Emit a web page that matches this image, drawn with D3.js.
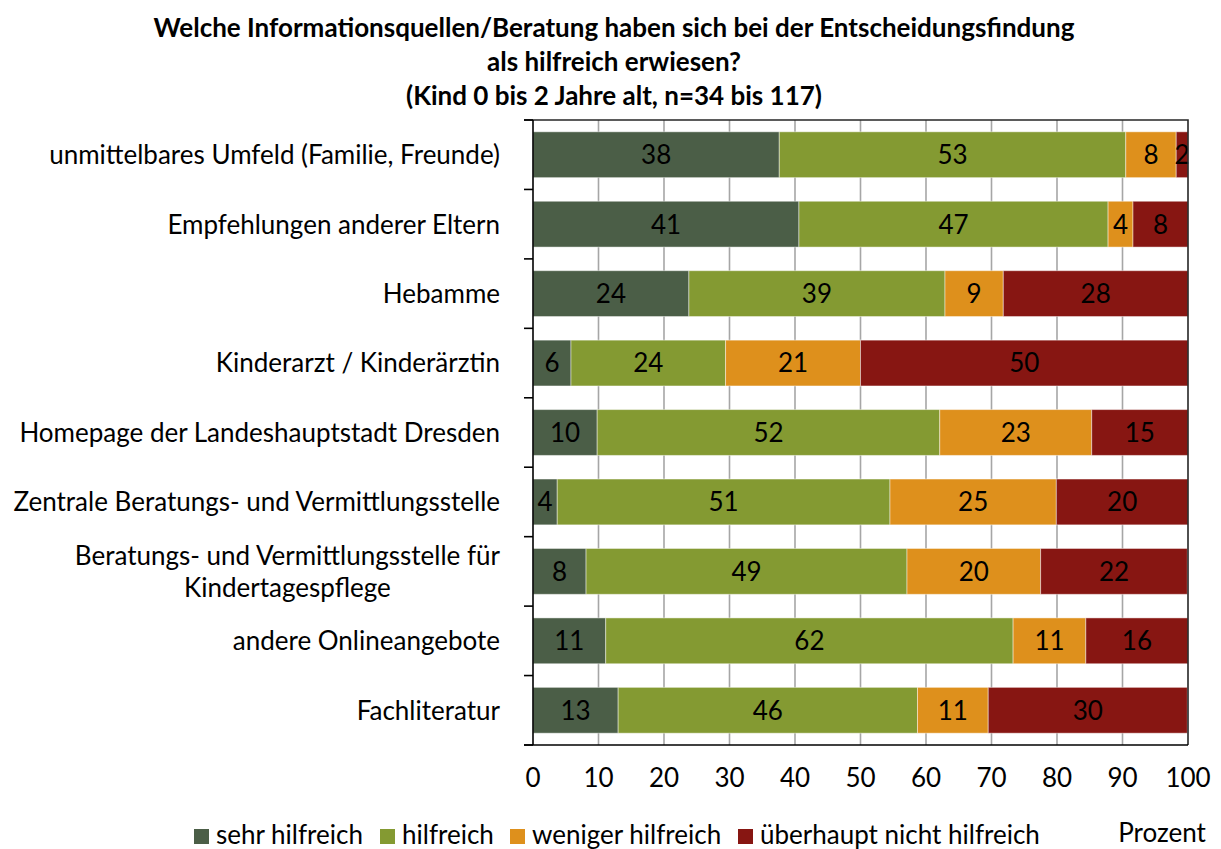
<!DOCTYPE html>
<html>
<head>
<meta charset="utf-8">
<script src="https://cdn.jsdelivr.net/npm/d3@7"></script>
<style>
  body { margin: 0; background: #fff; }
  svg text { font-family: Lato, "Open Sans", sans-serif; fill: #000; }
</style>
</head>
<body>
<svg id="chart"></svg>
<script>

// chart data
const titleLines = [
    "Welche Informationsquellen/Beratung haben sich bei der Entscheidungsfindung",
    "als hilfreich erwiesen?",
    "(Kind 0 bis 2 Jahre alt, n=34 bis 117)"
];

const categories = [
    ["unmittelbares Umfeld (Familie, Freunde)"],
    ["Empfehlungen anderer Eltern"],
    ["Hebamme"],
    ["Kinderarzt / Kinderärztin"],
    ["Homepage der Landeshauptstadt Dresden"],
    ["Zentrale Beratungs- und Vermittlungsstelle"],
    ["Beratungs- und Vermittlungsstelle für", "Kindertagespflege"],
    ["andere Onlineangebote"],
    ["Fachliteratur"]
];

const seriesNames = ["sehr hilfreich", "hilfreich", "weniger hilfreich", "überhaupt nicht hilfreich"];

const sehrHilfreich      = [37.6, 40.6, 23.8,  5.8,  9.8,  3.7,  8.1, 11.1, 13.0];
const hilfreich          = [52.9, 47.2, 39.1, 23.6, 52.3, 50.8, 49.0, 62.2, 45.7];
const wenigerHilfreich   = [ 7.7,  3.8,  8.9, 20.6, 23.2, 25.4, 20.4, 11.1, 10.8];
const nichtHilfreich     = [ 1.8,  8.4, 28.2, 50.0, 14.7, 20.1, 22.4, 15.6, 30.4];

const xTicks = [0, 10, 20, 30, 40, 50, 60, 70, 80, 90, 100];
const xAxisTitle = "Prozent";

const colors = ["#4b5e47", "#849a32", "#de901c", "#871612"];

// layout
const width = 1221, height = 849;
const plot = {left: 533, right: 1188, top: 120, bottom: 745};
const fontSize = 26;

const svg = d3.select("#chart")
    .attr("width", width)
    .attr("height", height);

const rows = categories.map((c, i) => ({
    key: i,
    s0: sehrHilfreich[i],
    s1: hilfreich[i],
    s2: wenigerHilfreich[i],
    s3: nichtHilfreich[i]
}));

const stack = d3.stack().keys(["s0", "s1", "s2", "s3"]);
const stacked = stack(rows);

const x = d3.scaleLinear().domain([0, 100]).range([plot.left, plot.right]);
const y = d3.scaleBand()
    .domain(d3.range(categories.length))
    .range([plot.top, plot.bottom])
    .paddingInner(0.34)
    .paddingOuter(0.17);

// title
svg.append("g")
    .selectAll("text")
    .data(titleLines)
    .join("text")
    .attr("x", 614)
    .attr("y", (d, i) => 37 + i * 34)
    .attr("text-anchor", "middle")
    .attr("font-size", 26)
    .attr("font-weight", "bold")
    .text(d => d);

// gridlines
svg.append("g")
    .selectAll("line")
    .data(xTicks.filter(t => t > 0 && t < 100))
    .join("line")
    .attr("x1", d => x(d))
    .attr("x2", d => x(d))
    .attr("y1", plot.top)
    .attr("y2", plot.bottom)
    .attr("stroke", "#a6a6a6")
    .attr("stroke-width", 1.6);

// bars
const layers = svg.append("g")
    .selectAll("g")
    .data(stacked)
    .join("g")
    .attr("fill", (d, i) => colors[i]);

layers.selectAll("rect")
    .data(d => d)
    .join("rect")
    .attr("x", d => x(d[0]))
    .attr("width", d => x(d[1]) - x(d[0]))
    .attr("y", (d, i) => y(i))
    .attr("height", y.bandwidth())
    .attr("stroke", "rgba(255,255,255,0.45)")
    .attr("stroke-width", 1);

// value labels
layers.selectAll("text")
    .data(d => d)
    .join("text")
    .attr("x", d => (x(d[0]) + x(d[1])) / 2)
    .attr("y", (d, i) => y(i) + y.bandwidth() / 2)
    .attr("dy", "0.36em")
    .attr("text-anchor", "middle")
    .attr("font-size", fontSize)
    .text(d => Math.round(d[1] - d[0]));

// frame: top and right border
svg.append("path")
    .attr("d", `M${plot.left - 9},${plot.top}H${plot.right}V${plot.bottom}`)
    .attr("fill", "none")
    .attr("stroke", "#262626")
    .attr("stroke-width", 1.6);

// left axis with ticks at category boundaries
const boundaries = d3.range(categories.length + 1).map(i => plot.top + i * y.step());
svg.append("line")
    .attr("x1", plot.left).attr("x2", plot.left)
    .attr("y1", plot.top).attr("y2", plot.bottom)
    .attr("stroke", "#000").attr("stroke-width", 1.6);
svg.append("g")
    .selectAll("line")
    .data(boundaries)
    .join("line")
    .attr("x1", plot.left - 9).attr("x2", plot.left)
    .attr("y1", d => d).attr("y2", d => d)
    .attr("stroke", "#000").attr("stroke-width", 1.6);

// bottom axis
svg.append("line")
    .attr("x1", plot.left - 9).attr("x2", plot.right)
    .attr("y1", plot.bottom).attr("y2", plot.bottom)
    .attr("stroke", "#000").attr("stroke-width", 1.6);

svg.append("g")
    .selectAll("text")
    .data(xTicks)
    .join("text")
    .attr("x", d => x(d))
    .attr("y", 787)
    .attr("text-anchor", "middle")
    .attr("font-size", fontSize)
    .text(d => d);

// category labels: block right aligned at x=500, lines centered inside it
svg.append("g")
    .selectAll("text")
    .data(categories)
    .join("text")
    .attr("font-size", fontSize)
    .attr("text-anchor", "middle")
    .each(function(lines, i) {
        const t = d3.select(this);
        const cy = y(i) + y.bandwidth() / 2;
        const lh = 32;
        const spans = lines.map((line, j) => t.append("tspan")
            .attr("x", 0)
            .attr("y", cy + (j - (lines.length - 1) / 2) * lh)
            .attr("dy", "0.36em")
            .text(line));
        const w = d3.max(spans, s => s.node().getComputedTextLength());
        spans.forEach(s => s.attr("x", 500 - w / 2));
    });

// legend
const legendX = [194, 380, 510, 738];
const legend = svg.append("g")
    .selectAll("g")
    .data(seriesNames)
    .join("g")
    .attr("transform", (d, i) => `translate(${legendX[i]},829)`);

legend.append("rect")
    .attr("width", 15)
    .attr("height", 15)
    .attr("fill", (d, i) => colors[i]);

legend.append("text")
    .attr("x", 22)
    .attr("y", 15)
    .attr("font-size", fontSize)
    .text(d => d);

svg.append("text")
    .attr("x", 1162)
    .attr("y", 842)
    .attr("text-anchor", "middle")
    .attr("font-size", fontSize)
    .text(xAxisTitle);

</script>
</body>
</html>
